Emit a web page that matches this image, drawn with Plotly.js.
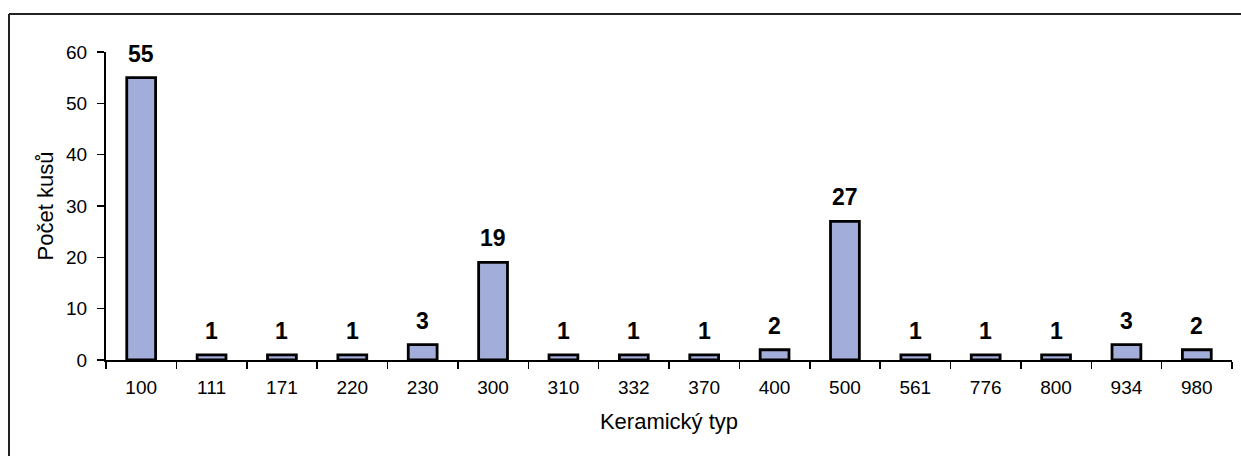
<!DOCTYPE html>
<html>
<head>
<meta charset="utf-8">
<script src="https://cdn.plot.ly/plotly-3.0.1.min.js"></script>
<style>
html,body{margin:0;padding:0;background:#fff;}
#chart{width:1241px;height:456px;}
</style>
</head>
<body>
<div id="chart"></div>
<script>
const categories = ["100","111","171","220","230","300","310","332","370","400","500","561","776","800","934","980"];
const counts = [55,1,1,1,3,19,1,1,1,2,27,1,1,1,3,2];
const xTitle = "Keramický typ";
const yTitle = "Počet kusů";
const yTicks = [0,10,20,30,40,50,60];

const W = 1241, H = 456;
const M = {l:106, r:9, t:52, b:96};
const pw = W - M.l - M.r, ph = H - M.t - M.b;
const fx = px => (px - M.l) / pw;
const fy = py => 1 - (py - M.t) / ph;

const fontFam = '"Liberation Sans", Arial, Helvetica, sans-serif';

const trace = {
  type: 'bar',
  x: categories,
  y: counts,
  marker: {color: '#A3ADD9', line: {color: '#000', width: 2.8}},
  width: 0.41,
  hoverinfo: 'none'
};

// category index used as annotation position (numeric-looking names would be read as indices)
const annotations = categories.map((c, i) => ({
  x: i, y: counts[i], xref: 'x', yref: 'y',
  text: '<b>' + counts[i] + '</b>',
  showarrow: false, yanchor: 'bottom', yshift: 9,
  font: {family: fontFam, size: 23, color: '#000'}
}));

const layout = {
  width: W, height: H,
  margin: M,
  paper_bgcolor: '#fff', plot_bgcolor: '#fff',
  showlegend: false,
  font: {family: fontFam, color: '#000'},
  xaxis: {
    type: 'category',
    showline: true, linecolor: '#000', linewidth: 2,
    ticks: 'outside', tickson: 'boundaries', ticklen: 7, tickwidth: 1.5, tickcolor: '#000',
    tickfont: {size: 19, family: fontFam, color: '#000'},
    ticklabelstandoff: 9,
    showgrid: false, zeroline: false,
    title: {text: xTitle, font: {size: 22, family: fontFam, color: '#000'}, standoff: 17},
    range: [-0.5, categories.length - 0.5]
  },
  yaxis: {
    range: [0, 60],
    tickvals: yTicks,
    showline: true, linecolor: '#000', linewidth: 2,
    ticks: 'outside', ticklen: 7, tickwidth: 1.5, tickcolor: '#000',
    tickfont: {size: 19, family: fontFam, color: '#000'},
    ticklabelstandoff: 6,
    showgrid: false, zeroline: false,
    title: {text: yTitle, font: {size: 22, family: fontFam, color: '#000'}, standoff: 6}
  },
  annotations: annotations,
  shapes: [
    {type: 'line', xref: 'paper', yref: 'paper', x0: fx(9), x1: fx(1300), y0: fy(14), y1: fy(14), line: {color: '#222', width: 2}},
    {type: 'line', xref: 'paper', yref: 'paper', x0: fx(9), x1: fx(9), y0: fy(14), y1: fy(520), line: {color: '#222', width: 2}}
  ]
};

Plotly.newPlot('chart', [trace], layout, {displayModeBar: false, staticPlot: true});
</script>
</body>
</html>
